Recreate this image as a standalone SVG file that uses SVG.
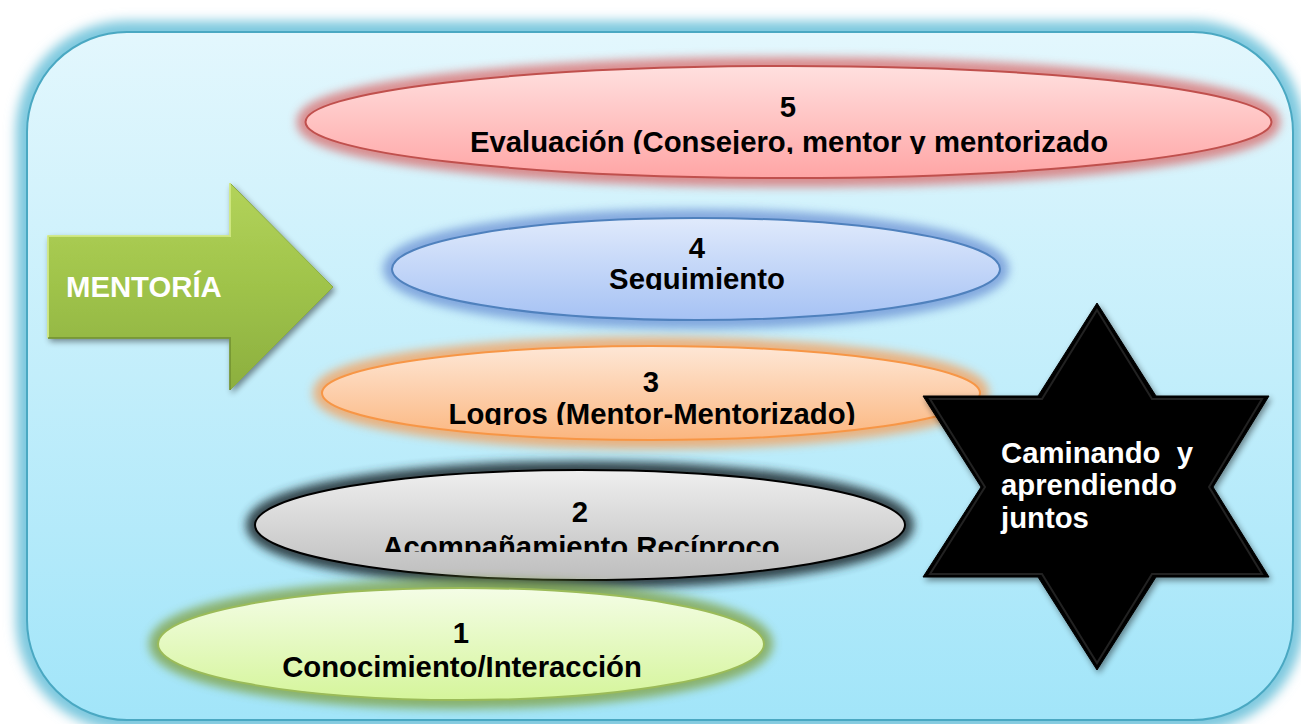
<svg xmlns="http://www.w3.org/2000/svg" width="1301" height="724" viewBox="0 0 1301 724">
<style>
  .lbl { font-family: "Liberation Sans", Arial, sans-serif; font-weight: bold; font-size: 29.3px; fill: #000; text-anchor: middle; }
  .wl { font-family: "Liberation Sans", Arial, sans-serif; font-weight: bold; font-size: 29.3px; fill: #fff; }
  .glow { fill: none; stroke-width: 18; filter: url(#blur); }
</style>
<defs>
  <filter id="blur" x="-20%" y="-60%" width="140%" height="220%">
    <feGaussianBlur stdDeviation="5"/>
  </filter>
  <filter id="blurbg" x="-10%" y="-10%" width="120%" height="120%">
    <feGaussianBlur stdDeviation="6"/>
  </filter>
  <filter id="shadow" x="-20%" y="-20%" width="150%" height="150%">
    <feGaussianBlur in="SourceAlpha" stdDeviation="3"/>
    <feOffset dx="2" dy="3" result="o"/>
    <feComponentTransfer><feFuncA type="linear" slope="0.45"/></feComponentTransfer>
    <feMerge><feMergeNode/><feMergeNode in="SourceGraphic"/></feMerge>
  </filter>
  <linearGradient id="gBg" x1="0" y1="0" x2="0" y2="1">
    <stop offset="0" stop-color="#e3f7fd"/>
    <stop offset="1" stop-color="#a2e5f9"/>
  </linearGradient>
  <linearGradient id="gRed" x1="0" y1="0" x2="0" y2="1">
    <stop offset="0" stop-color="#ffe0df"/>
    <stop offset="1" stop-color="#ffa5a5"/>
  </linearGradient>
  <linearGradient id="gBlue" x1="0" y1="0" x2="0" y2="1">
    <stop offset="0" stop-color="#e0eafc"/>
    <stop offset="1" stop-color="#a6c2f4"/>
  </linearGradient>
  <linearGradient id="gOrange" x1="0" y1="0" x2="0" y2="1">
    <stop offset="0" stop-color="#fee7d6"/>
    <stop offset="1" stop-color="#fbb67f"/>
  </linearGradient>
  <linearGradient id="gGray" x1="0" y1="0" x2="0" y2="1">
    <stop offset="0" stop-color="#efefef"/>
    <stop offset="1" stop-color="#bdbdbd"/>
  </linearGradient>
  <linearGradient id="gGreen" x1="0" y1="0" x2="0" y2="1">
    <stop offset="0" stop-color="#f4fde6"/>
    <stop offset="1" stop-color="#d5f59b"/>
  </linearGradient>
  <linearGradient id="gArrow" x1="0" y1="0" x2="0" y2="1">
    <stop offset="0" stop-color="#b3d35a"/>
    <stop offset="0.5" stop-color="#9fc34a"/>
    <stop offset="1" stop-color="#8caf3f"/>
  </linearGradient>
  <clipPath id="c5"><rect x="300" y="60" width="980" height="94"/></clipPath>
  <clipPath id="c4"><rect x="380" y="210" width="630" height="80"/></clipPath>
  <clipPath id="c3"><rect x="310" y="340" width="680" height="85"/></clipPath>
  <clipPath id="c2"><rect x="240" y="460" width="680" height="92"/></clipPath>
  <clipPath id="c1"><rect x="150" y="580" width="630" height="105"/></clipPath>
</defs>

<g id="background">
  <rect x="27" y="32" width="1266" height="688" rx="100" ry="100" fill="none" stroke="#7cc8de" stroke-width="22" filter="url(#blurbg)"/>
  <rect x="27" y="32" width="1266" height="688" rx="100" ry="100" fill="url(#gBg)" stroke="#4aa8c2" stroke-width="2"/>
</g>

<g id="node5">
  <ellipse class="glow" cx="788.5" cy="122" rx="483" ry="56" stroke="#d96a6a" opacity="0.75"/>
  <ellipse cx="788.5" cy="122" rx="483" ry="56" fill="url(#gRed)" stroke="#c0504d" stroke-width="2"/>
  <g clip-path="url(#c5)">
    <text class="lbl" x="788" y="117">5</text>
    <text class="lbl" x="789" y="152">Evaluación (Consejero, mentor y mentorizado</text>
  </g>
</g>

<g id="node4">
  <ellipse class="glow" cx="696" cy="269" rx="304" ry="51" stroke="#6a90d4" opacity="0.75"/>
  <ellipse cx="696" cy="269" rx="304" ry="51" fill="url(#gBlue)" stroke="#4f81bd" stroke-width="2"/>
  <g clip-path="url(#c4)">
    <text class="lbl" x="697" y="258">4</text>
    <text class="lbl" x="697" y="289">Seguimiento</text>
  </g>
</g>

<g id="node3">
  <ellipse class="glow" cx="651" cy="393" rx="329" ry="47" stroke="#f79f59" opacity="0.75"/>
  <ellipse cx="651" cy="393" rx="329" ry="47" fill="url(#gOrange)" stroke="#f79646" stroke-width="2"/>
  <g clip-path="url(#c3)">
    <text class="lbl" x="651" y="392">3</text>
    <text class="lbl" x="652" y="424">Logros (Mentor-Mentorizado)</text>
  </g>
</g>

<g id="node2">
  <ellipse class="glow" cx="580" cy="525" rx="325" ry="55" stroke="#26343b" opacity="0.9"/>
  <ellipse cx="580" cy="525" rx="325" ry="55" fill="url(#gGray)" stroke="#000" stroke-width="2"/>
  <g clip-path="url(#c2)">
    <text class="lbl" x="580" y="522">2</text>
    <text class="lbl" x="581" y="557">Acompañamiento Recíproco</text>
  </g>
</g>

<g id="node1">
  <ellipse class="glow" cx="461" cy="644" rx="303" ry="56" stroke="#82a448" opacity="0.8"/>
  <ellipse cx="461" cy="644" rx="303" ry="56" fill="url(#gGreen)" stroke="#9bbb59" stroke-width="2"/>
  <g clip-path="url(#c1)">
    <text class="lbl" x="461" y="643">1</text>
    <text class="lbl" x="462" y="677">Conocimiento/Interacción</text>
  </g>
</g>

<g id="mentoria">
  <polygon points="48,236 230,236 230,183 333,287 230,390 230,338 48,338" fill="url(#gArrow)" stroke="#8aac44" stroke-width="1" filter="url(#shadow)"/>
  <polyline points="48,338 48,236 230,236 230,183" fill="none" stroke="#d9f08c" stroke-width="2" opacity="0.8"/>
  <polyline points="230,390 230,338 48,338" fill="none" stroke="#6f8f2e" stroke-width="2" opacity="0.7"/>
  <text class="wl" x="66" y="297">MENTORÍA</text>
</g>

<g id="star">
  <polygon points="1097,303 1156,396 1269,396 1213,487 1269,577 1156,577 1097,670 1038,577 923,577 981,487 923,396 1038,396" fill="#000" stroke="#000" stroke-width="1" filter="url(#shadow)"/>
  <polygon points="1097,310 1152,399 1262,399 1209,487 1262,574 1152,574 1097,663 1042,574 930,574 985,487 930,399 1042,399" fill="none" stroke="#2a2a2a" stroke-width="2" opacity="0.8"/>
  <text class="wl" x="1001" y="463" xml:space="preserve">Caminando  y</text>
  <text class="wl" x="1001" y="495">aprendiendo</text>
  <text class="wl" x="1001" y="528">juntos</text>
</g>

<g id="connectors"></g>
</svg>
